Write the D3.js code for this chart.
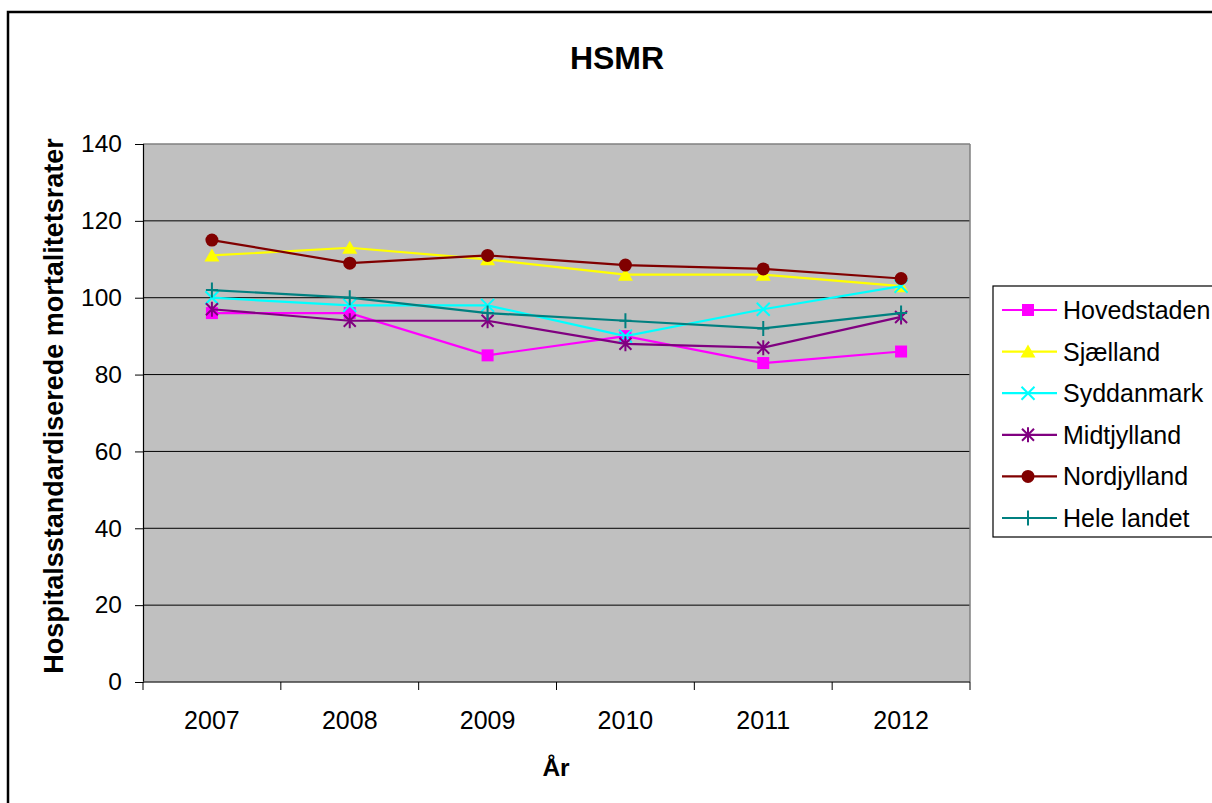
<!DOCTYPE html>
<html>
<head>
<meta charset="utf-8">
<script src="https://cdn.jsdelivr.net/npm/d3@7"></script>
<style>
  html, body { margin: 0; padding: 0; background: #fff; }
  svg { display: block; font-family: "Liberation Sans", Arial, sans-serif; }
</style>
</head>
<body>
<svg id="chart" width="1212" height="803"></svg>
<script>
const years = ["2007", "2008", "2009", "2010", "2011", "2012"];
const yTicks = [0, 20, 40, 60, 80, 100, 120, 140];
const seriesNames = ["Hovedstaden", "Sjælland", "Syddanmark", "Midtjylland", "Nordjylland", "Hele landet"];
const hovedstaden = [96, 96, 85, 90, 83, 86];
const sjaelland   = [111, 113, 110, 106, 106, 103];
const syddanmark  = [100, 98, 98, 90, 97, 103];
const midtjylland = [97, 94, 94, 88, 87, 95];
const nordjylland = [115, 109, 111, 108.5, 107.5, 105];
const heleLandet  = [102, 100, 96, 94, 92, 96];
const seriesValues = [hovedstaden, sjaelland, syddanmark, midtjylland, nordjylland, heleLandet];
const seriesColors = ["#FF00FF", "#FFFF00", "#00FFFF", "#800080", "#800000", "#008080"];
const seriesMarkers = ["square", "triangle", "x", "asterisk", "circle", "plus"];

const svg = d3.select("#chart");
const L = 143, R = 970, T = 144, B = 682;

// outer chart border (extends beyond the picture on right/bottom)
svg.append("rect").attr("x", 8).attr("y", 12).attr("width", 1400).attr("height", 1000)
  .attr("fill", "#fff").attr("stroke", "#000").attr("stroke-width", 2.5);

const x = d3.scaleBand().domain(years).range([L, R]).padding(0);
const y = d3.scaleLinear().domain([0, 140]).range([B, T]);

// plot background
svg.append("rect").attr("x", L).attr("y", T).attr("width", R - L).attr("height", B - T)
  .attr("fill", "#C0C0C0");

// gridlines
svg.append("g").selectAll("line").data(yTicks.filter(d => d > 0 && d < 140)).join("line")
  .attr("x1", L).attr("x2", R).attr("y1", d => y(d)).attr("y2", d => y(d))
  .attr("stroke", "#000").attr("stroke-width", 1);

// plot border top/right
svg.append("line").attr("x1", L).attr("x2", R).attr("y1", y(140)).attr("y2", y(140))
  .attr("stroke", "#808080").attr("stroke-width", 1.5);
svg.append("line").attr("x1", R).attr("x2", R).attr("y1", T).attr("y2", B)
  .attr("stroke", "#808080").attr("stroke-width", 1.5);

// y axis
const yAxis = d3.axisLeft(y).tickValues(yTicks).tickSize(8).tickPadding(13);
const gy = svg.append("g").attr("transform", `translate(${L},0)`).call(yAxis);
gy.select(".domain").attr("stroke", "#000").attr("stroke-width", 1.2);
gy.selectAll(".tick line").attr("stroke", "#000");
gy.selectAll(".tick text").attr("font-size", 24.5).attr("fill", "#000")
  .attr("font-family", "'Liberation Sans', Arial, sans-serif");

// x axis: line, boundary ticks, labels
svg.append("line").attr("x1", L).attr("x2", R).attr("y1", B).attr("y2", B)
  .attr("stroke", "#404040").attr("stroke-width", 1.5);
const boundaries = years.map(d => x(d)).concat([x(years[years.length - 1]) + x.bandwidth()]);
svg.append("g").selectAll("line").data(boundaries).join("line")
  .attr("x1", d => d).attr("x2", d => d).attr("y1", B).attr("y2", B + 8)
  .attr("stroke", "#000").attr("stroke-width", 1);
svg.append("g").selectAll("text").data(years).join("text")
  .attr("x", d => x(d) + x.bandwidth() / 2).attr("y", 729)
  .attr("text-anchor", "middle").attr("font-size", 25).attr("fill", "#000")
  .text(d => d);

// titles
svg.append("text").attr("x", 617).attr("y", 69).attr("text-anchor", "middle")
  .attr("font-size", 32).attr("font-weight", "bold").text("HSMR");
svg.append("text").attr("x", 556).attr("y", 776).attr("text-anchor", "middle")
  .attr("font-size", 24.5).attr("font-weight", "bold").text("År");
svg.append("text").attr("transform", "translate(54,406) rotate(-90)")
  .attr("text-anchor", "middle").attr("dominant-baseline", "central")
  .attr("font-size", 27).attr("font-weight", "bold")
  .text("Hospitalsstandardiserede mortalitetsrater");

// markers
function drawMarker(g, type, color, cx, cy) {
  const s = 6;
  if (type === "square") {
    g.append("rect").attr("x", cx - s).attr("y", cy - s).attr("width", 2 * s).attr("height", 2 * s)
      .attr("fill", color);
  } else if (type === "triangle") {
    g.append("path").attr("d", `M${cx},${cy - 7}L${cx + 7.5},${cy + 6}L${cx - 7.5},${cy + 6}Z`)
      .attr("fill", color);
  } else if (type === "circle") {
    g.append("circle").attr("cx", cx).attr("cy", cy).attr("r", 6.5).attr("fill", color);
  } else if (type === "x") {
    g.append("path").attr("d", `M${cx - 6.5},${cy - 6.5}L${cx + 6.5},${cy + 6.5}M${cx + 6.5},${cy - 6.5}L${cx - 6.5},${cy + 6.5}`)
      .attr("stroke", color).attr("stroke-width", 2).attr("fill", "none");
  } else if (type === "asterisk") {
    g.append("path").attr("d", `M${cx - 6},${cy - 6}L${cx + 6},${cy + 6}M${cx + 6},${cy - 6}L${cx - 6},${cy + 6}M${cx},${cy - 7.5}L${cx},${cy + 7.5}`)
      .attr("stroke", color).attr("stroke-width", 2).attr("fill", "none");
  } else if (type === "plus") {
    g.append("path").attr("d", `M${cx},${cy - 7.5}L${cx},${cy + 7.5}M${cx - 6},${cy}L${cx + 6},${cy}`)
      .attr("stroke", color).attr("stroke-width", 2).attr("fill", "none");
  }
}

const line = d3.line().x((d, i) => x(years[i]) + x.bandwidth() / 2).y(d => y(d));
seriesValues.forEach((vals, si) => {
  const g = svg.append("g");
  g.append("path").attr("d", line(vals)).attr("fill", "none")
    .attr("stroke", seriesColors[si]).attr("stroke-width", 2.2);
  vals.forEach((v, i) => drawMarker(g, seriesMarkers[si], seriesColors[si],
    x(years[i]) + x.bandwidth() / 2, y(v)));
});

// legend
const lg = svg.append("g");
lg.append("rect").attr("x", 993).attr("y", 286).attr("width", 300).attr("height", 251)
  .attr("fill", "#fff").attr("stroke", "#000").attr("stroke-width", 1.2);
seriesNames.forEach((name, i) => {
  const ly = 310 + i * 41.6;
  lg.append("line").attr("x1", 1002).attr("x2", 1057).attr("y1", ly).attr("y2", ly)
    .attr("stroke", seriesColors[i]).attr("stroke-width", 2.2);
  drawMarker(lg, seriesMarkers[i], seriesColors[i], 1028, ly);
  lg.append("text").attr("x", 1063).attr("y", ly).attr("dominant-baseline", "central")
    .attr("font-size", 25).attr("fill", "#000").text(name);
});
</script>
</body>
</html>
